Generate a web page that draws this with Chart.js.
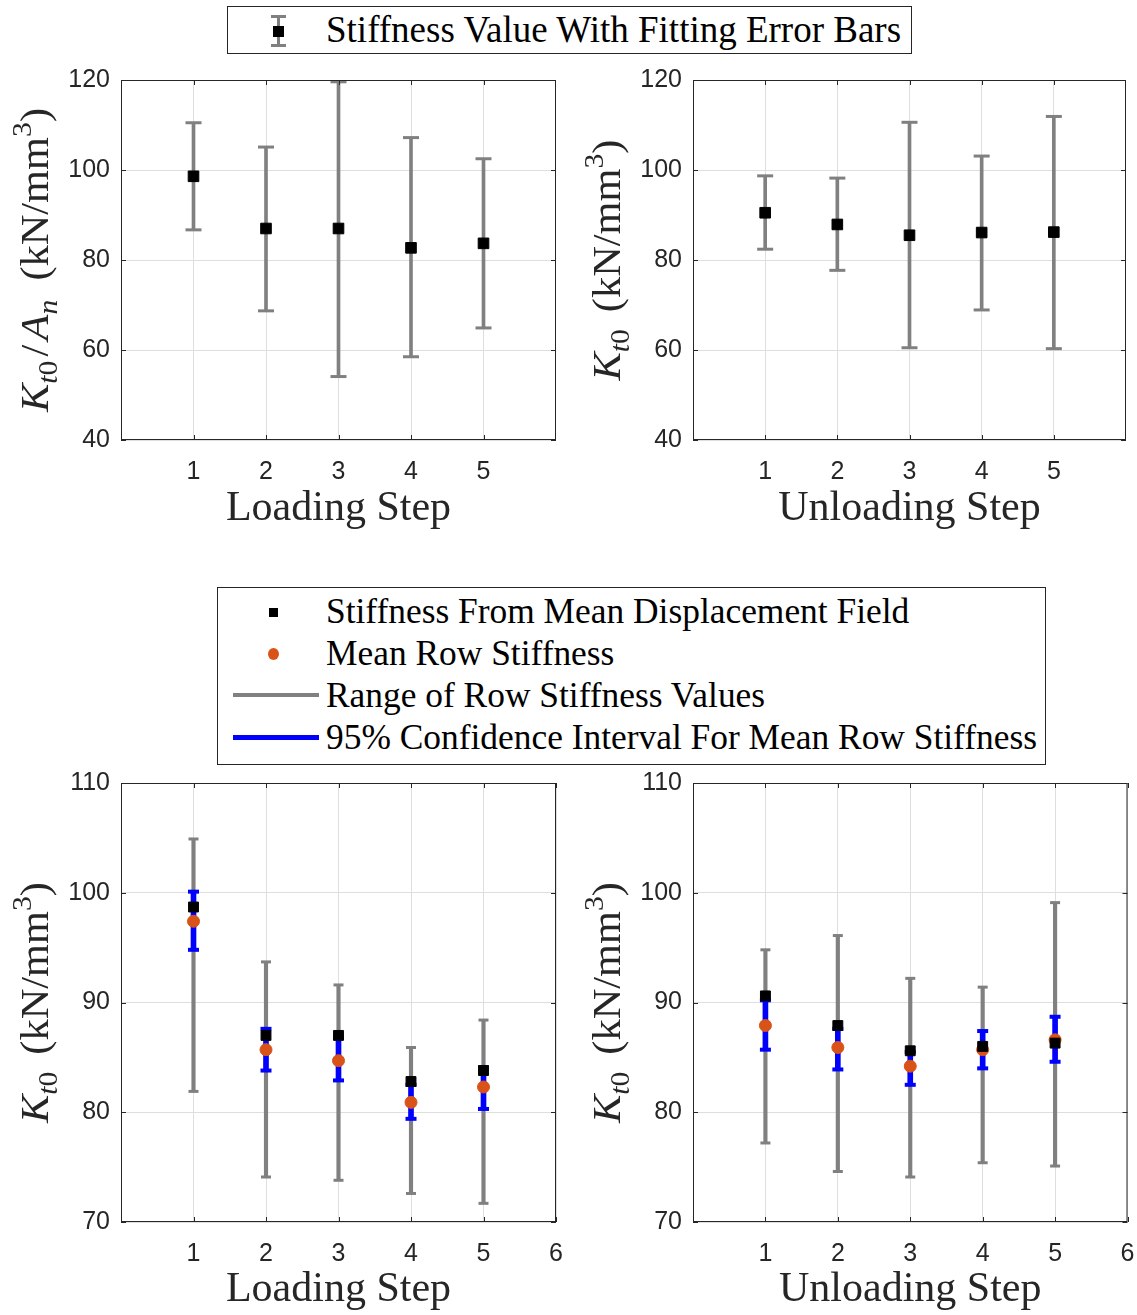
<!DOCTYPE html>
<html lang="en">
<head>
<meta charset="UTF-8">
<title>Stiffness per loading step</title>
<script src="https://cdn.jsdelivr.net/npm/chart.js"></script>
<style>
    body {
        margin: 0;
        width: 1137px;
        height: 1315px;
        position: relative;
        overflow: hidden;
        background: #fff;
        font-family: "Liberation Serif", serif;
    }

    canvas {
        position: absolute;
    }

    /* legend boxes */
    .legend {
        position: absolute;
        box-sizing: border-box;
        border: 1px solid #262626;
        background: #fff;
    }

    .legend .txt {
        position: absolute;
        font-size: 35.4px;
        line-height: 40px;
        color: #000;
        white-space: nowrap;
    }

    .legend .sym {
        position: absolute;
    }
</style>
</head>
<body>

<!-- top legend -->
<div class="legend" style="left:227px; top:6px; width:685px; height:48px;">
    <div class="sym" style="left:49px; top:9px; width:3px; height:30px; background:#808080;"></div>
    <div class="sym" style="left:43px; top:8px; width:15px; height:3px; background:#808080;"></div>
    <div class="sym" style="left:43px; top:37px; width:15px; height:3px; background:#808080;"></div>
    <div class="sym" style="left:45px; top:19px; width:11px; height:11px; background:#000;"></div>
    <div class="txt" style="left:98px; top:3px; font-size:37px;">Stiffness Value With Fitting Error Bars</div>
</div>

<!-- bottom legend -->
<div class="legend" style="left:217px; top:587px; width:829px; height:178px;">
    <div class="sym" style="left:51px; top:20px; width:9px; height:9px; background:#000;"></div>
    <div class="txt" style="left:108px; top:3px;">Stiffness From Mean Displacement Field</div>
    <div class="sym" style="left:50px; top:60px; width:11px; height:12px; border-radius:50%; background:#D95319;"></div>
    <div class="txt" style="left:108px; top:45px;">Mean Row Stiffness</div>
    <div class="sym" style="left:15px; top:105px; width:86px; height:4px; background:#808080;"></div>
    <div class="txt" style="left:108px; top:87px;">Range of Row Stiffness Values</div>
    <div class="sym" style="left:15px; top:147px; width:86px; height:5px; background:#0000FF;"></div>
    <div class="txt" style="left:108px; top:129px;">95% Confidence Interval For Mean Row Stiffness</div>
</div>

<canvas id="loadFitChart" width="570" height="480" style="left:0; top:60px;"></canvas>
<canvas id="unloadFitChart" width="567" height="480" style="left:570px; top:60px;"></canvas>
<canvas id="loadRowChart" width="570" height="545" style="left:0; top:770px;"></canvas>
<canvas id="unloadRowChart" width="567" height="545" style="left:570px; top:770px;"></canvas>

<script>
    // шаги нагружения
    const steps = [1, 2, 3, 4, 5];

    // верхний ряд: жёсткость с ошибками аппроксимации
    const loadFit = [98.6, 87.0, 87.0, 82.7, 83.7];
    const loadFitLow = [86.7, 68.7, 54.1, 58.5, 64.9];
    const loadFitHigh = [110.5, 105.1, 119.6, 107.2, 102.5];

    const unloadFit = [90.5, 87.9, 85.5, 86.1, 86.2];
    const unloadFitLow = [82.4, 77.7, 60.5, 68.9, 60.3];
    const unloadFitHigh = [98.7, 98.2, 110.6, 103.1, 111.9];

    // нижний ряд: поле средних перемещений, средняя по строкам, ДИ и размах
    const loadMeanField = [98.7, 87.0, 87.0, 82.8, 83.8];
    const loadRowMean = [97.4, 85.7, 84.7, 80.9, 82.3];
    const loadCiLow = [94.8, 83.8, 82.9, 79.4, 80.3];
    const loadCiHigh = [100.1, 87.6, 86.8, 82.5, 84.1];
    const loadRangeLow = [81.9, 74.1, 73.8, 72.6, 71.7];
    const loadRangeHigh = [104.9, 93.7, 91.6, 85.9, 88.4];

    const unloadMeanField = [90.6, 87.9, 85.6, 86.0, 86.3];
    const unloadRowMean = [87.9, 85.9, 84.2, 85.7, 86.6];
    const unloadCiLow = [85.7, 83.9, 82.5, 84.0, 84.6];
    const unloadCiHigh = [90.2, 87.6, 85.5, 87.4, 88.7];
    const unloadRangeLow = [77.2, 74.6, 74.1, 75.4, 75.1];
    const unloadRangeHigh = [94.8, 96.1, 92.2, 91.4, 99.1];

    // подписи делений
    const xTicksTop = [1, 2, 3, 4, 5];
    const xTicksBottom = [1, 2, 3, 4, 5, 6];
    const yTicksTop = [40, 60, 80, 100, 120];
    const yTicksBottom = [70, 80, 90, 100, 110];

    const GRAY = '#808080';
    const BLUE = '#0000FF';
    const ORANGE = '#D95319';
    const AXIS = '#262626';

    Chart.defaults.font.family = "'Liberation Sans', Arial, sans-serif";
    Chart.defaults.color = AXIS;

    function points(values) {
        return steps.map((s, i) => ({x: s, y: values[i]}));
    }

    function rangeBar(lo, hi, width, color, order) {
        return {
            type: 'bar',
            data: steps.map((s, i) => ({x: s, y: [lo[i], hi[i]]})),
            backgroundColor: color,
            borderWidth: 0,
            barThickness: width,
            grouped: false,
            order: order
        };
    }

    function caps(lo, hi, halfWidth, lineWidth, color, order) {
        return {
            type: 'scatter',
            data: steps.flatMap((s, i) => [{x: s, y: lo[i]}, {x: s, y: hi[i]}]),
            pointStyle: 'line',
            pointRadius: halfWidth,
            pointBorderColor: color,
            pointBorderWidth: lineWidth,
            clip: false,
            order: order
        };
    }

    function markers(values, style, radius, color, order) {
        return {
            type: 'scatter',
            data: points(values),
            pointStyle: style,
            pointRadius: radius,
            pointBackgroundColor: color,
            pointBorderColor: color,
            pointBorderWidth: 1,
            clip: false,
            order: order
        };
    }

    // подписи оси Y с индексами
    const kt0 = [{t: 'K', i: 1}, {t: 't', i: 1, s: -1}, {t: '0', s: -1}];
    const unitPart = [{t: '(kN/mm'}, {t: '3', s: 1}, {t: ')'}];
    const yLabels = {
        loadFitChart: {x: 48, parts: kt0.concat([{t: '/', pre: 4, gap: 4}, {t: 'A', i: 1},
            {t: 'n', i: 1, s: -1, gap: 18}], unitPart)},
        unloadFitChart: {x: 50, parts: kt0.concat([{t: '', gap: 16}], unitPart)},
        loadRowChart: {x: 48, parts: kt0.concat([{t: '', gap: 16}], unitPart)},
        unloadRowChart: {x: 50, parts: kt0.concat([{t: '', gap: 16}], unitPart)}
    };

    const yLabelPlugin = {
        id: 'yLabelMath',
        afterDraw(chart) {
            const cfg = yLabels[chart.canvas.id];
            const {ctx, chartArea: a} = chart;
            const size = 40;
            const stretch = 1.06;
            const fontOf = p => (p.i ? 'italic ' : '') + (p.s ? size * 0.7 : size) + 'px "Liberation Serif"';
            ctx.save();
            let total = 0;
            cfg.parts.forEach(p => {
                ctx.font = fontOf(p);
                total += (p.pre || 0) + ctx.measureText(p.t).width + (p.gap || 0);
            });
            ctx.translate(cfg.x, (a.top + a.bottom) / 2);
            ctx.rotate(-Math.PI / 2);
            ctx.scale(stretch, 1);
            ctx.fillStyle = AXIS;
            ctx.textBaseline = 'alphabetic';
            ctx.textAlign = 'left';
            let cx = -total / 2;
            cfg.parts.forEach(p => {
                ctx.font = fontOf(p);
                cx += p.pre || 0;
                const dy = p.s === -1 ? size * 0.22 : (p.s === 1 ? -size * 0.42 : 0);
                ctx.fillText(p.t, cx, dy);
                cx += ctx.measureText(p.t).width + (p.gap || 0);
            });
            ctx.restore();
        }
    };

    // рамка и внутренние засечки как в MATLAB
    const framePlugin = {
        id: 'boxFrame',
        afterDatasetsDraw(chart) {
            const {ctx, chartArea: a, scales: {x, y}} = chart;
            ctx.save();
            ctx.strokeStyle = AXIS;
            ctx.lineWidth = 1;
            ctx.beginPath();
            x.ticks.forEach(t => {
                const px = Math.round(x.getPixelForValue(t.value)) + 0.5;
                ctx.moveTo(px, a.bottom);
                ctx.lineTo(px, a.bottom - 5);
                ctx.moveTo(px, a.top);
                ctx.lineTo(px, a.top + 5);
            });
            y.ticks.forEach(t => {
                const py = Math.round(y.getPixelForValue(t.value)) + 0.5;
                ctx.moveTo(a.left, py);
                ctx.lineTo(a.left + 5, py);
                ctx.moveTo(a.right, py);
                ctx.lineTo(a.right - 5, py);
            });
            ctx.stroke();
            ctx.strokeRect(a.left + 0.5, a.top + 0.5, a.right - a.left - 1, a.bottom - a.top - 1);
            ctx.restore();
        }
    };

    function makeChart(id, datasets, p) {
        return new Chart(document.getElementById(id), {
            type: 'scatter',
            data: {datasets: datasets},
            plugins: [framePlugin, yLabelPlugin],
            options: {
                responsive: false,
                animation: false,
                events: [],
                layout: {padding: {top: p.top, right: p.right, left: 0, bottom: 0}},
                plugins: {legend: {display: false}, tooltip: {enabled: false}},
                scales: {
                    x: {
                        type: 'linear',
                        min: 0,
                        max: 6,
                        offset: false,
                        afterBuildTicks: s => { s.ticks = p.xTicks.map(v => ({value: v})); },
                        afterFit: s => {
                            s.height = p.xHeight;
                            s.paddingLeft = 0; s.paddingRight = 0;
                        },
                        grid: {color: '#dedede', drawTicks: false, offset: false},
                        border: {display: false},
                        ticks: {padding: 17, font: {size: 25}, color: AXIS, maxRotation: 0},
                        title: {
                            display: true,
                            text: p.xTitle,
                            color: AXIS,
                            font: {family: "'Liberation Serif', serif", size: 42},
                            padding: {top: 0, bottom: p.titlePad}
                        }
                    },
                    y: {
                        type: 'linear',
                        min: p.yTicks[0],
                        max: p.yTicks[p.yTicks.length - 1],
                        afterBuildTicks: s => { s.ticks = p.yTicks.map(v => ({value: v})); },
                        afterFit: s => {
                            s.width = p.yWidth;
                            s.paddingTop = 0; s.paddingBottom = 0;
                        },
                        grid: {color: '#dedede', drawTicks: false},
                        border: {display: false},
                        ticks: {padding: 11, font: {size: 25}, color: AXIS}
                    }
                }
            }
        });
    }

    // верхний ряд
    makeChart('loadFitChart', [
        markers(loadFit, 'rect', 7.5, '#000', 0),
        caps(loadFitLow, loadFitHigh, 8, 3, GRAY, 1),
        rangeBar(loadFitLow, loadFitHigh, 3, GRAY, 2)
    ], {top: 20, right: 14, yWidth: 121, xHeight: 100, titlePad: 6,
        xTicks: xTicksTop, yTicks: yTicksTop, xTitle: 'Loading Step'});

    makeChart('unloadFitChart', [
        markers(unloadFit, 'rect', 7.5, '#000', 0),
        caps(unloadFitLow, unloadFitHigh, 8, 3, GRAY, 1),
        rangeBar(unloadFitLow, unloadFitHigh, 3, GRAY, 2)
    ], {top: 20, right: 9, yWidth: 123, xHeight: 100, titlePad: 6,
        xTicks: xTicksTop, yTicks: yTicksTop, xTitle: 'Unloading Step'});

    // нижний ряд
    makeChart('loadRowChart', [
        markers(loadMeanField, 'rect', 7, '#000', 0),
        markers(loadRowMean, 'circle', 6, ORANGE, 1),
        caps(loadCiLow, loadCiHigh, 5.5, 4, BLUE, 2),
        rangeBar(loadCiLow, loadCiHigh, 5, BLUE, 3),
        caps(loadRangeLow, loadRangeHigh, 5, 3, GRAY, 4),
        rangeBar(loadRangeLow, loadRangeHigh, 3.5, GRAY, 5)
    ], {top: 13, right: 14, yWidth: 121, xHeight: 93, titlePad: 0,
        xTicks: xTicksBottom, yTicks: yTicksBottom, xTitle: 'Loading Step'});

    makeChart('unloadRowChart', [
        markers(unloadMeanField, 'rect', 7, '#000', 0),
        markers(unloadRowMean, 'circle', 6, ORANGE, 1),
        caps(unloadCiLow, unloadCiHigh, 5.5, 4, BLUE, 2),
        rangeBar(unloadCiLow, unloadCiHigh, 5, BLUE, 3),
        caps(unloadRangeLow, unloadRangeHigh, 5, 3, GRAY, 4),
        rangeBar(unloadRangeLow, unloadRangeHigh, 3.5, GRAY, 5)
    ], {top: 13, right: 9, yWidth: 123, xHeight: 93, titlePad: 0,
        xTicks: xTicksBottom, yTicks: yTicksBottom, xTitle: 'Unloading Step'});
</script>
</body>
</html>
